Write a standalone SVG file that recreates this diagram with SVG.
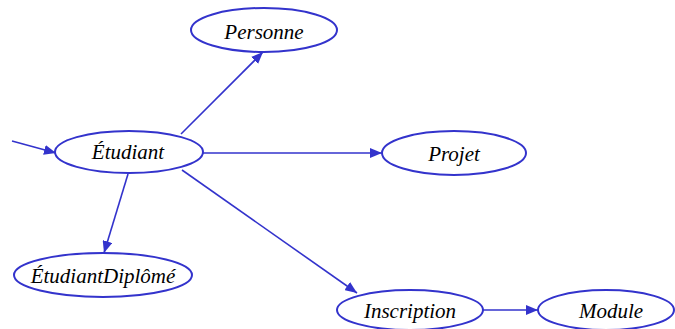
<svg xmlns="http://www.w3.org/2000/svg" width="675" height="329" viewBox="0 0 675 329">
<style>
.node ellipse{fill:#fff;stroke:#3333cc;stroke-width:2}
.node text{font-family:'Liberation Serif','Times New Roman','DejaVu Serif',serif;font-style:italic;font-size:21px;fill:#000;text-anchor:middle}
.edges line{stroke:#3333cc;stroke-width:1.6}
</style>
<defs>
<marker id="ah" viewBox="0 0 12 10" refX="12" refY="5" markerWidth="12" markerHeight="10" markerUnits="userSpaceOnUse" orient="auto">
<path d="M0,0 L12,5 L0,10 Z" fill="#3333cc"/>
</marker>
</defs>
<rect width="675" height="329" fill="#fff"/>
<g class="edges">
<line x1="12" y1="141" x2="56" y2="153" marker-end="url(#ah)"/>
<line x1="181" y1="134" x2="263" y2="52" marker-end="url(#ah)"/>
<line x1="203" y1="153" x2="382" y2="153" marker-end="url(#ah)"/>
<line x1="128" y1="174" x2="104" y2="253" marker-end="url(#ah)"/>
<line x1="182" y1="170" x2="357" y2="293" marker-end="url(#ah)"/>
<line x1="483" y1="310" x2="538" y2="310" marker-end="url(#ah)"/>
</g>
<g id="etudiant" class="node"><ellipse cx="129" cy="152" rx="74" ry="21"/><text x="128" y="159">Étudiant</text></g>
<g id="personne" class="node"><ellipse cx="264" cy="30" rx="73" ry="22"/><text x="264" y="39">Personne</text></g>
<g id="projet" class="node"><ellipse cx="454" cy="153" rx="72" ry="22"/><text x="454" y="161">Projet</text></g>
<g id="etudiantdiplome" class="node"><ellipse cx="103" cy="275" rx="89" ry="22"/><text x="103" y="283">ÉtudiantDiplômé</text></g>
<g id="inscription" class="node"><ellipse cx="410" cy="310" rx="73" ry="20"/><text x="410" y="318">Inscription</text></g>
<g id="module" class="node"><ellipse cx="606" cy="310" rx="68" ry="20"/><text x="611" y="318">Module</text></g>
</svg>
